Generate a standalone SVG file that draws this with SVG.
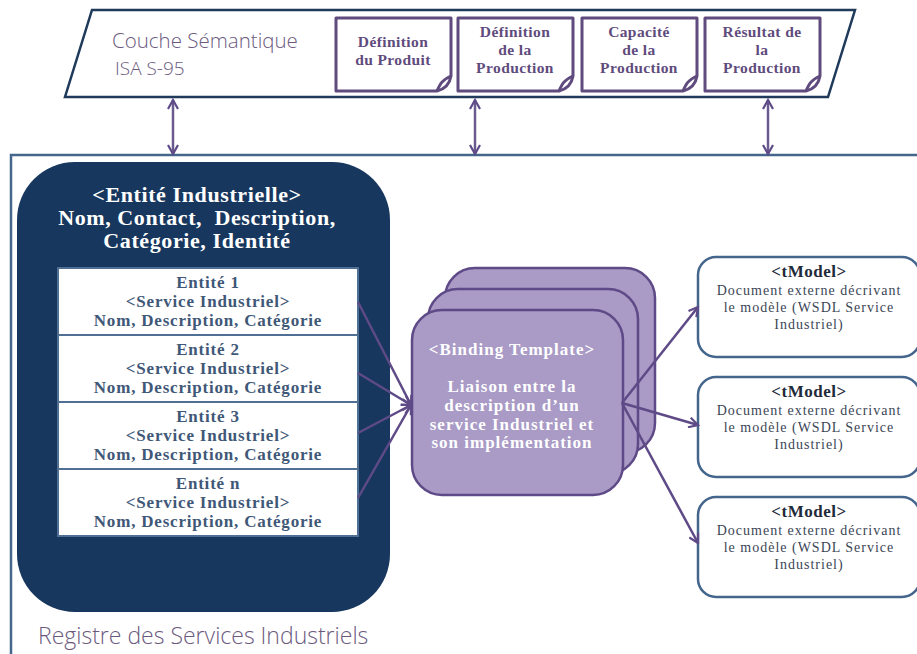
<svg xmlns="http://www.w3.org/2000/svg" xmlns:xlink="http://www.w3.org/1999/xlink" width="917" height="654" viewBox="0 0 917 654">
<defs>
<style>
.hand{font-family:"Open Sans","DejaVu Sans",sans-serif;font-weight:300;fill:#6b5a7e;}
.doc{fill:#fff;stroke:#5f4b7d;stroke-width:3;stroke-linejoin:round;}
.doct{font-family:"Liberation Serif",serif;font-weight:bold;font-size:15.5px;letter-spacing:0.4px;fill:#5f4b7d;text-anchor:middle;}
.hdr{font-family:"Liberation Serif",serif;font-weight:bold;font-size:22px;letter-spacing:0.6px;fill:#fff;text-anchor:middle;}
.ebox{fill:#fff;stroke:#4f6f94;stroke-width:2;}
.et{font-family:"Liberation Serif",serif;font-weight:bold;font-size:17px;letter-spacing:0.8px;fill:#3f5878;text-anchor:middle;}
.bt{fill:#a99ac6;stroke:#5e4a87;stroke-width:2.5;}
.btt{font-family:"Liberation Serif",serif;font-weight:bold;font-size:17px;letter-spacing:1px;fill:#fff;text-anchor:middle;}
.tm{fill:#fff;stroke:#44658c;stroke-width:2.5;}
.tmh{font-family:"Liberation Serif",serif;font-weight:bold;font-size:17px;letter-spacing:0.5px;fill:#1f2b3a;text-anchor:middle;}
.tmt{font-family:"Liberation Serif",serif;font-size:14px;letter-spacing:1px;fill:#3b4656;text-anchor:middle;}
.con{fill:none;stroke:#5e4a87;stroke-width:2.5;}
.va{fill:none;stroke:#6a5a8e;stroke-width:2.5;}
</style>
<marker id="arr" markerWidth="12" markerHeight="12" refX="10" refY="6" orient="auto-start-reverse" markerUnits="userSpaceOnUse">
<path d="M1,1 L10,6 L1,11" fill="none" stroke="#5e4a87" stroke-width="2.2"/>
</marker>
<path id="docshape" d="M0,0 H115 V58 Q113,70 101,73 H0 Z"/>
<path id="curl" d="M101,73 C104,66 106,62 115,58" fill="none"/>
</defs>

<!-- Semantic layer -->
<g id="couche-semantique">
<path d="M92,10 H855 L828,97 H65 Z" fill="#fff" stroke="#1f3a5a" stroke-width="2.5"/>
<text class="hand" x="112" y="48" font-size="20.5">Couche Sémantique</text>
<text class="hand" x="115" y="75" font-size="19">ISA S-95</text>
</g>
<g id="doc-produit">
<use xlink:href="#docshape" class="doc" x="336" y="18"/>
<use xlink:href="#curl" class="doc" x="336" y="18"/>
<text class="doct" x="393" y="47">Définition</text>
<text class="doct" x="393" y="65">du Produit</text>
</g>
<g id="doc-def-production">
<use xlink:href="#docshape" class="doc" x="458" y="18"/>
<use xlink:href="#curl" class="doc" x="458" y="18"/>
<text class="doct" x="515" y="37">Définition</text>
<text class="doct" x="515" y="55">de la</text>
<text class="doct" x="515" y="73">Production</text>
</g>
<g id="doc-capacite">
<use xlink:href="#docshape" class="doc" x="582" y="18"/>
<use xlink:href="#curl" class="doc" x="582" y="18"/>
<text class="doct" x="639" y="37">Capacité</text>
<text class="doct" x="639" y="55">de la</text>
<text class="doct" x="639" y="73">Production</text>
</g>
<g id="doc-resultat">
<use xlink:href="#docshape" class="doc" x="705" y="18"/>
<use xlink:href="#curl" class="doc" x="705" y="18"/>
<text class="doct" x="762" y="37">Résultat de</text>
<text class="doct" x="762" y="55">la</text>
<text class="doct" x="762" y="73">Production</text>
</g>

<!-- Registry -->
<g id="registre">
<rect x="11" y="155" width="915" height="520" fill="#fff" stroke="#44658c" stroke-width="2.5"/>
<text class="hand" x="38" y="644" font-size="23">Registre des Services Industriels</text>
</g>

<g id="entite-industrielle">
<rect x="17" y="162" width="373" height="450" rx="58" fill="#17375e"/>
<text class="hdr" x="197" y="202">&lt;Entité Industrielle&gt;</text>
<text class="hdr" x="197" y="225" xml:space="preserve">Nom, Contact,  Description,</text>
<text class="hdr" x="197" y="248">Catégorie, Identité</text>
</g>
<g id="entite-1">
<rect class="ebox" x="58" y="268" width="300" height="67"/>
<text class="et" x="208" y="288">Entité 1</text>
<text class="et" x="208" y="307">&lt;Service Industriel&gt;</text>
<text class="et" x="208" y="326">Nom, Description, Catégorie</text>
</g>
<g id="entite-2">
<rect class="ebox" x="58" y="335" width="300" height="67"/>
<text class="et" x="208" y="355">Entité 2</text>
<text class="et" x="208" y="374">&lt;Service Industriel&gt;</text>
<text class="et" x="208" y="393">Nom, Description, Catégorie</text>
</g>
<g id="entite-3">
<rect class="ebox" x="58" y="402" width="300" height="67"/>
<text class="et" x="208" y="422">Entité 3</text>
<text class="et" x="208" y="441">&lt;Service Industriel&gt;</text>
<text class="et" x="208" y="460">Nom, Description, Catégorie</text>
</g>
<g id="entite-n">
<rect class="ebox" x="58" y="469" width="300" height="67"/>
<text class="et" x="208" y="489">Entité n</text>
<text class="et" x="208" y="508">&lt;Service Industriel&gt;</text>
<text class="et" x="208" y="527">Nom, Description, Catégorie</text>
</g>

<g id="binding-template">
<rect class="bt" x="445" y="268" width="210" height="185" rx="30"/>
<rect class="bt" x="428" y="289" width="210" height="185" rx="30"/>
<rect class="bt" x="412" y="310" width="211" height="185" rx="30"/>
<text class="btt" x="512" y="355">&lt;Binding Template&gt;</text>
<text class="btt" x="512" y="392">Liaison entre la</text>
<text class="btt" x="512" y="411">description d’un</text>
<text class="btt" x="512" y="430">service Industriel et</text>
<text class="btt" x="512" y="448">son implémentation</text>
</g>

<g id="tmodel-1">
<rect class="tm" x="698" y="257" width="222" height="100" rx="18"/>
<text class="tmh" x="809" y="277">&lt;tModel&gt;</text>
<text class="tmt" x="809" y="295">Document externe décrivant</text>
<text class="tmt" x="809" y="312">le modèle (WSDL Service</text>
<text class="tmt" x="809" y="329">Industriel)</text>
</g>
<g id="tmodel-2">
<rect class="tm" x="698" y="377" width="222" height="100" rx="18"/>
<text class="tmh" x="809" y="397">&lt;tModel&gt;</text>
<text class="tmt" x="809" y="415">Document externe décrivant</text>
<text class="tmt" x="809" y="432">le modèle (WSDL Service</text>
<text class="tmt" x="809" y="449">Industriel)</text>
</g>
<g id="tmodel-3">
<rect class="tm" x="698" y="497" width="222" height="100" rx="18"/>
<text class="tmh" x="809" y="517">&lt;tModel&gt;</text>
<text class="tmt" x="809" y="535">Document externe décrivant</text>
<text class="tmt" x="809" y="552">le modèle (WSDL Service</text>
<text class="tmt" x="809" y="569">Industriel)</text>
</g>

<g id="connectors">
<line class="va" x1="173" y1="100" x2="173" y2="154" marker-start="url(#arr)" marker-end="url(#arr)"/>
<line class="va" x1="475" y1="100" x2="475" y2="154" marker-start="url(#arr)" marker-end="url(#arr)"/>
<line class="va" x1="768" y1="100" x2="768" y2="154" marker-start="url(#arr)" marker-end="url(#arr)"/>
<line class="con" x1="358" y1="302" x2="411" y2="405" marker-end="url(#arr)"/>
<line class="con" x1="358" y1="373" x2="411" y2="405" marker-end="url(#arr)"/>
<line class="con" x1="358" y1="433" x2="411" y2="405" marker-end="url(#arr)"/>
<line class="con" x1="358" y1="498" x2="411" y2="405" marker-end="url(#arr)"/>
<line class="con" x1="622" y1="403" x2="698" y2="307" marker-end="url(#arr)"/>
<line class="con" x1="622" y1="403" x2="698" y2="425" marker-end="url(#arr)"/>
<line class="con" x1="622" y1="403" x2="698" y2="543" marker-end="url(#arr)"/>
</g>
</svg>
